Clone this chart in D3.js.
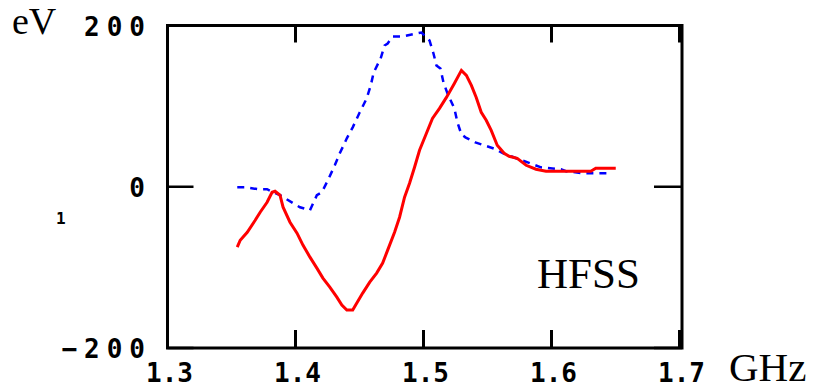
<!DOCTYPE html>
<html>
<head>
<meta charset="utf-8">
<script src="https://cdn.jsdelivr.net/npm/d3@7"></script>
<style>
  html, body { margin: 0; padding: 0; background: #ffffff; }
  svg { display: block; }
</style>
</head>
<body>
<svg id="chart" width="817" height="391"></svg>
<script>
// ---- data ----
const xTicks = [1.3, 1.4, 1.5, 1.6, 1.7];
const xTickLabels = ["1.3", "1.4", "1.5", "1.6", "1.7"];
const yTicks = [-200, 0, 200];
const yTickLabels = ["-200", "0", "200"];

// red solid curve
const redX = [1.3545, 1.3568, 1.3623, 1.3685, 1.3724, 1.3778, 1.3817, 1.3840, 1.3879, 1.3903,
  1.3957, 1.4012, 1.4058, 1.4113, 1.4167, 1.4214, 1.4268, 1.4323, 1.4362, 1.4401,
  1.4447, 1.4479, 1.4525, 1.4580, 1.4634, 1.4681, 1.4720, 1.4774, 1.4813, 1.4852,
  1.4891, 1.4930, 1.4969, 1.5023, 1.5070, 1.5125, 1.5179, 1.5241, 1.5296, 1.5335,
  1.5374, 1.5412, 1.5451, 1.5490, 1.5529, 1.5576, 1.5630, 1.5669, 1.5732, 1.5802,
  1.5879, 1.5957, 1.6113, 1.6307, 1.6346, 1.6502];
const redY = [-74.9, -66.3, -56.4, -41.5, -31.6, -19.2, -6.8, -5.6, -10.5, -25.4,
  -44.0, -57.6, -72.4, -87.3, -100.9, -113.3, -124.5, -136.9, -146.8, -153.0,
  -153.0, -144.3, -131.9, -118.3, -107.1, -94.7, -78.6, -56.4, -37.8, -13.0,
  4.3, 24.1, 45.2, 66.3, 84.8, 97.2, 110.8, 128.2, 144.3, 138.1,
  125.7, 110.8, 92.3, 82.4, 69.9, 51.4, 41.5, 37.8, 35.3, 26.6,
  21.7, 19.2, 19.2, 19.2, 22.9, 22.9];

// blue dashed curve
const blueX = [1.3545, 1.3607, 1.3708, 1.3778, 1.3825, 1.3879, 1.3981, 1.4035, 1.4113, 1.4167,
  1.4206, 1.4253, 1.4307, 1.4346, 1.4401, 1.4447, 1.4502, 1.4556, 1.4588, 1.4611,
  1.4665, 1.4696, 1.4720, 1.4759, 1.4837, 1.4946, 1.4984, 1.5047, 1.5078, 1.5101,
  1.5132, 1.5156, 1.5187, 1.5241, 1.5265, 1.5296, 1.5327, 1.5405, 1.5451, 1.5568,
  1.5591, 1.5623, 1.5724, 1.5770, 1.5918, 1.6074, 1.6113, 1.6253, 1.6447];
const blueY = [-0.6, -0.6, -3.1, -3.1, -6.8, -10.5, -20.4, -25.4, -29.1, -10.5,
  -6.8, 8.0, 26.6, 41.5, 60.1, 73.7, 92.3, 109.6, 125.7, 141.8,
  159.1, 175.2, 177.7, 186.4, 186.4, 190.1, 191.3, 181.4, 165.3, 150.5,
  146.8, 129.4, 115.8, 97.2, 79.9, 65.0, 61.3, 55.1, 52.6, 46.4,
  44.0, 41.5, 35.3, 32.8, 24.1, 21.7, 19.2, 16.7, 16.7];

const yUnit = "eV";
const xUnit = "GHz";
const annotation = "HFSS";
const indexMark = "1";

(function () {
  // ---- layout ----
  const svg = d3.select("#chart");
  const pL = 167.5, pR = 679.5, frameR = 682, pT = 25.5, pB = 348;
  const x = d3.scaleLinear().domain([1.3, 1.7]).range([pL, pR]);
  const y = d3.scaleLinear().domain([-200, 200]).range([pB, pT]);

  const tickFont = "'DejaVu Sans Mono', monospace";
  const serif = "'Liberation Serif', 'Times New Roman', serif";

  // frame
  svg.append("rect")
    .attr("x", pL).attr("y", pT)
    .attr("width", frameR - pL).attr("height", pB - pT)
    .attr("fill", "none").attr("stroke", "#000").attr("stroke-width", 3);

  // x ticks (inward, top and bottom)
  const xt = svg.append("g");
  xTicks.forEach(v => {
    xt.append("line").attr("x1", x(v)).attr("x2", x(v))
      .attr("y1", pB).attr("y2", pB - 18)
      .attr("stroke", "#000").attr("stroke-width", 3);
    xt.append("line").attr("x1", x(v)).attr("x2", x(v))
      .attr("y1", pT).attr("y2", pT + 17)
      .attr("stroke", "#000").attr("stroke-width", 3);
  });
  // y ticks (inward, both sides)
  yTicks.forEach(v => {
    svg.append("line").attr("x1", pL).attr("x2", pL + 26)
      .attr("y1", y(v)).attr("y2", y(v)).attr("stroke", "#000").attr("stroke-width", 2.5);
    svg.append("line").attr("x1", frameR - 28).attr("x2", frameR)
      .attr("y1", y(v)).attr("y2", y(v)).attr("stroke", "#000").attr("stroke-width", 2.5);
  });

  // x tick labels
  svg.append("g").selectAll("text").data(xTicks).join("text")
    .attr("x", d => x(d) + 2)
    .attr("y", 382)
    .attr("text-anchor", "middle")
    .attr("font-family", tickFont)
    .attr("font-weight", "bold")
    .attr("font-size", 26)
    .attr("fill", "#000")
    .text((d, i) => xTickLabels[i]);

  // y tick labels
  svg.append("g").selectAll("text").data(yTicks).join("text")
    .attr("x", 152)
    .attr("y", d => y(d) + 10)
    .attr("text-anchor", "end")
    .attr("font-family", tickFont)
    .attr("font-weight", "bold")
    .attr("font-size", 26)
    .attr("letter-spacing", 7)
    .attr("fill", "#000")
    .text((d, i) => yTickLabels[i].replace("-", "\u2212"));

  // unit labels
  svg.append("text").attr("x", 12).attr("y", 34)
    .attr("font-family", serif).attr("font-size", 38).attr("fill", "#000").text(yUnit);
  svg.append("text").attr("x", 729).attr("y", 381)
    .attr("font-family", serif).attr("font-size", 41).attr("fill", "#000").text(xUnit);
  svg.append("text").attr("x", 537).attr("y", 288)
    .attr("font-family", serif).attr("font-size", 43).attr("fill", "#000").text(annotation);
  svg.append("text").attr("x", 56).attr("y", 224)
    .attr("font-family", tickFont).attr("font-weight", "bold").attr("font-size", 16)
    .attr("fill", "#000").text(indexMark);

  // curves
  const line = d3.line().x(d => x(d[0])).y(d => y(d[1]));
  svg.append("path")
    .datum(blueX.map((v, i) => [v, blueY[i]]))
    .attr("d", line)
    .attr("fill", "none").attr("stroke", "#0000ff").attr("stroke-width", 2.5)
    .attr("stroke-dasharray", "7,6");
  svg.append("path")
    .datum(redX.map((v, i) => [v, redY[i]]))
    .attr("d", line)
    .attr("fill", "none").attr("stroke", "#ff0000").attr("stroke-width", 3);
})();
</script>
</body>
</html>
